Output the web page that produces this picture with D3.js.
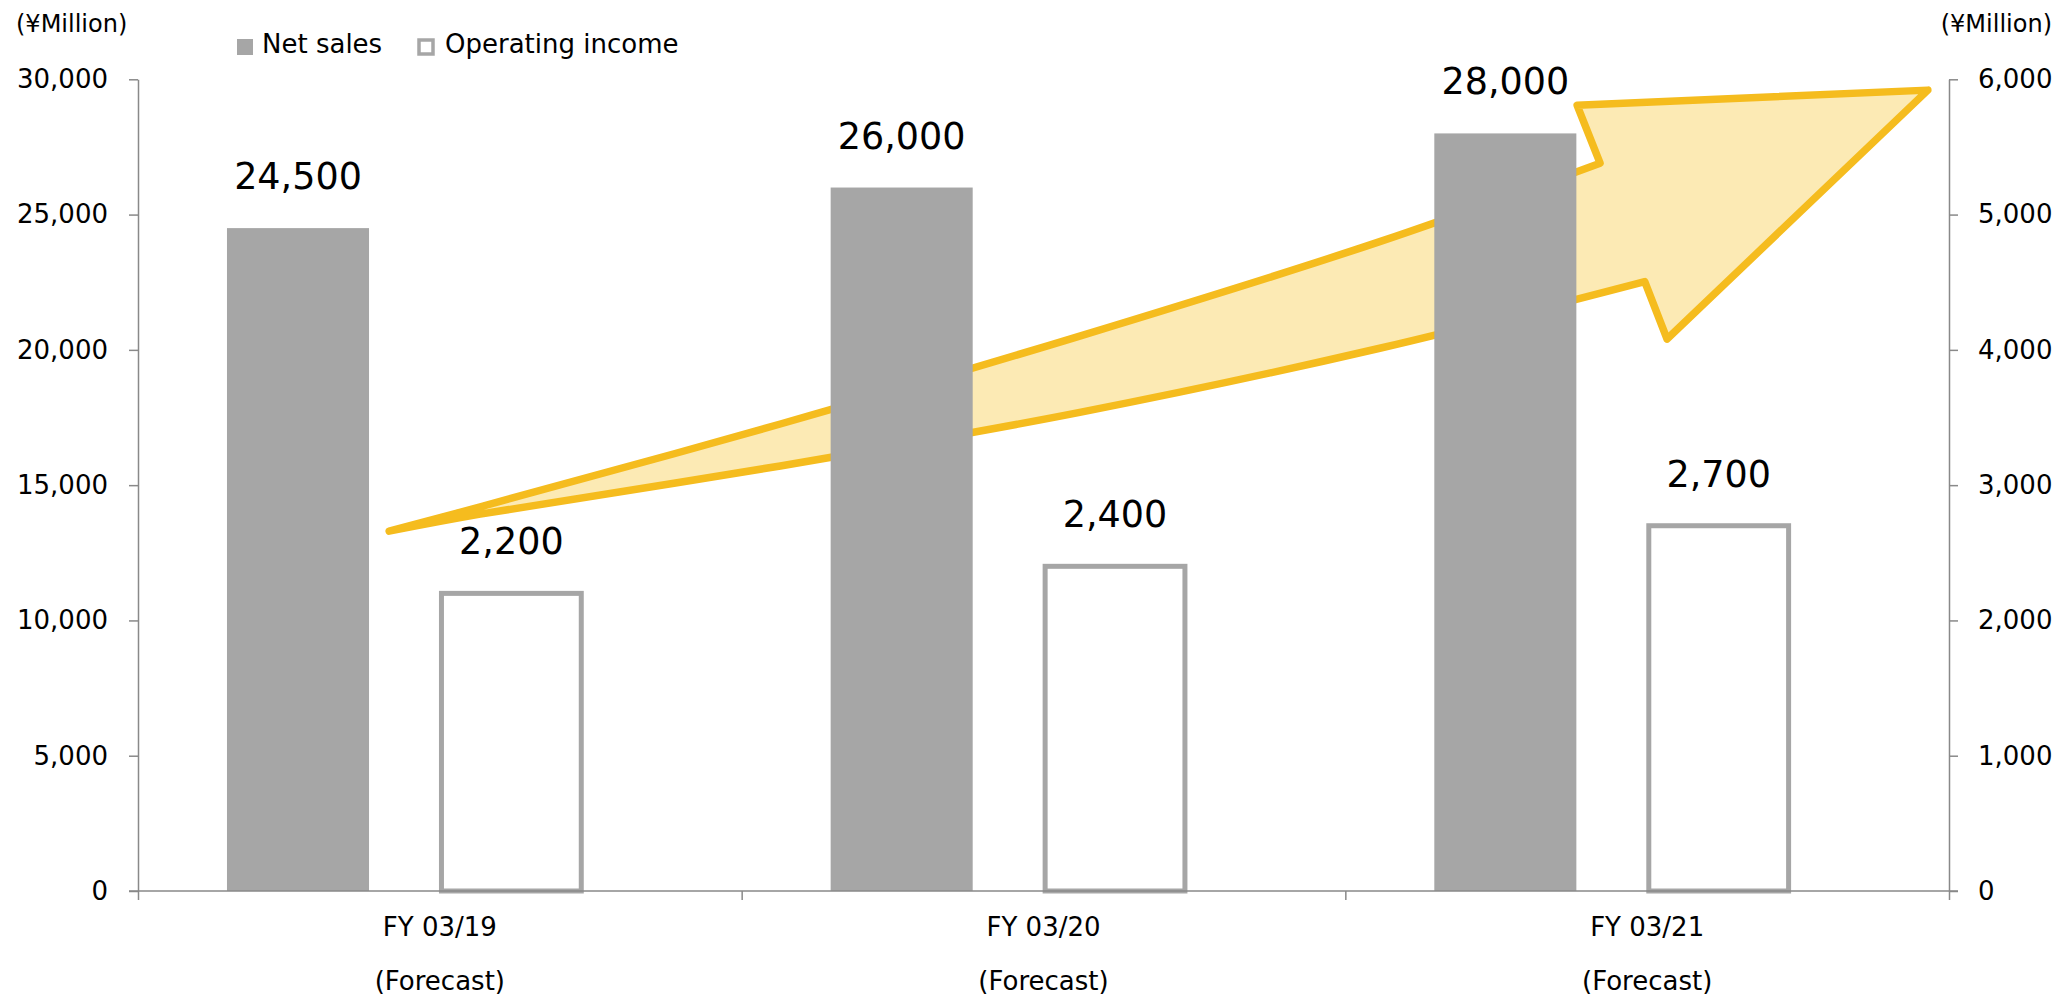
<!DOCTYPE html>
<html>
<head>
<meta charset="utf-8">
<script src="https://cdn.jsdelivr.net/npm/d3@7"></script>
<style>
  body { margin: 0; background: #fff; }
  svg text { font-family: "DejaVu Sans", Verdana, sans-serif; fill: #000; }
</style>
</head>
<body>
<div id="canvas"></div>
<script>
// data
const categories = ["FY 03/19", "FY 03/20", "FY 03/21"];
const subLabels = ["(Forecast)", "(Forecast)", "(Forecast)"];
const netSales = [24500, 26000, 28000];
const operatingIncome = [2200, 2400, 2700];
const leftTicks = [0, 5000, 10000, 15000, 20000, 25000, 30000];
const rightTicks = [0, 1000, 2000, 3000, 4000, 5000, 6000];

// growth arrow, in category units (x) and net sales units (y)
const arrowUpper = [[0.416, 13300], [0.567, 14200], [1.064, 17260], [1.56, 20510], [2.057, 24000], [2.422, 26900]];
const arrowHead = [[2.384, 29040], [2.965, 29600], [2.533, 20400], [2.496, 22520]];
const arrowLower = [[2.496, 22520], [2.057, 20060], [1.56, 17690], [1.064, 15710], [0.567, 13930], [0.416, 13300]];

const width = 2063, height = 995;
const margin = { top: 79.3, left: 138, bottom: 104, right: 114 };
const iwidth = width - margin.left - margin.right;
const iheight = height - margin.top - margin.bottom;
const axisColor = "#898989";
const barGray = "#A6A6A6";

const svg = d3.select("#canvas").append("svg")
  .attr("width", width)
  .attr("height", height);

const g = svg.append("g").attr("transform", `translate(${margin.left},${margin.top})`);

const x = d3.scaleBand().domain(categories).range([0, iwidth]).padding(0);
const xu = d3.scaleLinear().domain([0, 3]).range([0, iwidth]);
const y = d3.scaleLinear().domain([0, 30000]).range([iheight, 0]);
const y2 = d3.scaleLinear().domain([0, 6000]).range([iheight, 0]);
const bw = x.bandwidth();

// arrow behind the bars
const curve = d3.line().x(d => xu(d[0])).y(d => y(d[1])).curve(d3.curveCatmullRom);
const upperPath = curve(arrowUpper);
const lowerPath = curve(arrowLower).replace(/^M/, "L");
const headPath = arrowHead.map(d => `L${xu(d[0])},${y(d[1])}`).join("");
g.append("path")
  .attr("d", upperPath + headPath + lowerPath + "Z")
  .attr("fill", "#FCEAB4")
  .attr("stroke", "#F5BC1E")
  .attr("stroke-width", 7.5)
  .attr("stroke-linejoin", "round");

// net sales bars
g.selectAll(".sales").data(netSales).enter().append("rect")
  .attr("class", "sales")
  .attr("x", (d, i) => x(categories[i]) + bw * 0.1474)
  .attr("y", d => y(d))
  .attr("width", bw * 0.2353)
  .attr("height", d => iheight - y(d))
  .attr("fill", barGray);

// operating income bars (outlined)
g.selectAll(".income").data(operatingIncome).enter().append("rect")
  .attr("class", "income")
  .attr("x", (d, i) => x(categories[i]) + bw * 0.5027)
  .attr("y", d => y2(d))
  .attr("width", bw * 0.2316)
  .attr("height", d => iheight - y2(d))
  .attr("fill", "#fff")
  .attr("stroke", barGray)
  .attr("stroke-width", 5);

// value labels
g.selectAll(".salesLabel").data(netSales).enter().append("text")
  .attr("x", (d, i) => x(categories[i]) + bw * (0.1474 + 0.2353 / 2))
  .attr("y", d => y(d) - 39)
  .attr("text-anchor", "middle")
  .style("font-size", "36.5px")
  .text(d => d3.format(",")(d));

g.selectAll(".incomeLabel").data(operatingIncome).enter().append("text")
  .attr("x", (d, i) => x(categories[i]) + bw * (0.5027 + 0.2316 / 2))
  .attr("y", d => y2(d) - 39)
  .attr("text-anchor", "middle")
  .style("font-size", "36.5px")
  .text(d => d3.format(",")(d));

// axes
const leftAxis = g.append("g")
  .call(d3.axisLeft(y).tickValues(leftTicks).tickFormat(d3.format(",")).tickSize(9).tickSizeOuter(0).tickPadding(21));
const rightAxis = g.append("g")
  .attr("transform", `translate(${iwidth},0)`)
  .call(d3.axisRight(y2).tickValues(rightTicks).tickFormat(d3.format(",")).tickSize(9).tickSizeOuter(0).tickPadding(20));
const bottomTicks = g.append("g")
  .attr("transform", `translate(0,${iheight})`)
  .call(d3.axisBottom(xu).tickValues([0, 1, 2, 3]).tickFormat("").tickSize(9).tickSizeOuter(0));
const bottomLabels = g.append("g")
  .attr("transform", `translate(0,${iheight})`)
  .call(d3.axisBottom(x).tickSize(0).tickPadding(27));
bottomLabels.select(".domain").remove();
bottomTicks.select(".domain").remove();
g.append("line")
  .attr("x1", -9).attr("x2", iwidth + 9)
  .attr("y1", iheight).attr("y2", iheight)
  .attr("stroke", axisColor).attr("stroke-width", 1.5);

[leftAxis, rightAxis, bottomTicks].forEach(a => {
  a.selectAll("path, line").attr("stroke", axisColor).attr("stroke-width", 1.5);
});
[leftAxis, rightAxis, bottomLabels].forEach(a => {
  a.selectAll("text").style("font-size", "26px").attr("fill", "#000")
    .style("font-family", '"DejaVu Sans", Verdana, sans-serif');
});

bottomLabels.selectAll(".tick").append("text")
  .attr("y", 99)
  .attr("fill", "#000")
  .attr("text-anchor", "middle")
  .style("font-size", "26px")
  .style("font-family", '"DejaVu Sans", Verdana, sans-serif')
  .text((d, i) => subLabels[i]);

// unit labels
svg.append("text").attr("x", 16).attr("y", 32).style("font-size", "24px").text("(¥Million)");
svg.append("text").attr("x", 2052).attr("y", 32).attr("text-anchor", "end").style("font-size", "24px").text("(¥Million)");

// legend
const legend = svg.append("g").attr("transform", "translate(237,39)");
legend.append("rect").attr("width", 16).attr("height", 16).attr("fill", barGray);
legend.append("text").attr("x", 25).attr("y", 14).style("font-size", "26px").text("Net sales");
legend.append("rect").attr("x", 182).attr("y", 1).attr("width", 14).attr("height", 14)
  .attr("fill", "#fff").attr("stroke", barGray).attr("stroke-width", 3.5);
legend.append("text").attr("x", 208).attr("y", 14).style("font-size", "26px").text("Operating income");
</script>
</body>
</html>
